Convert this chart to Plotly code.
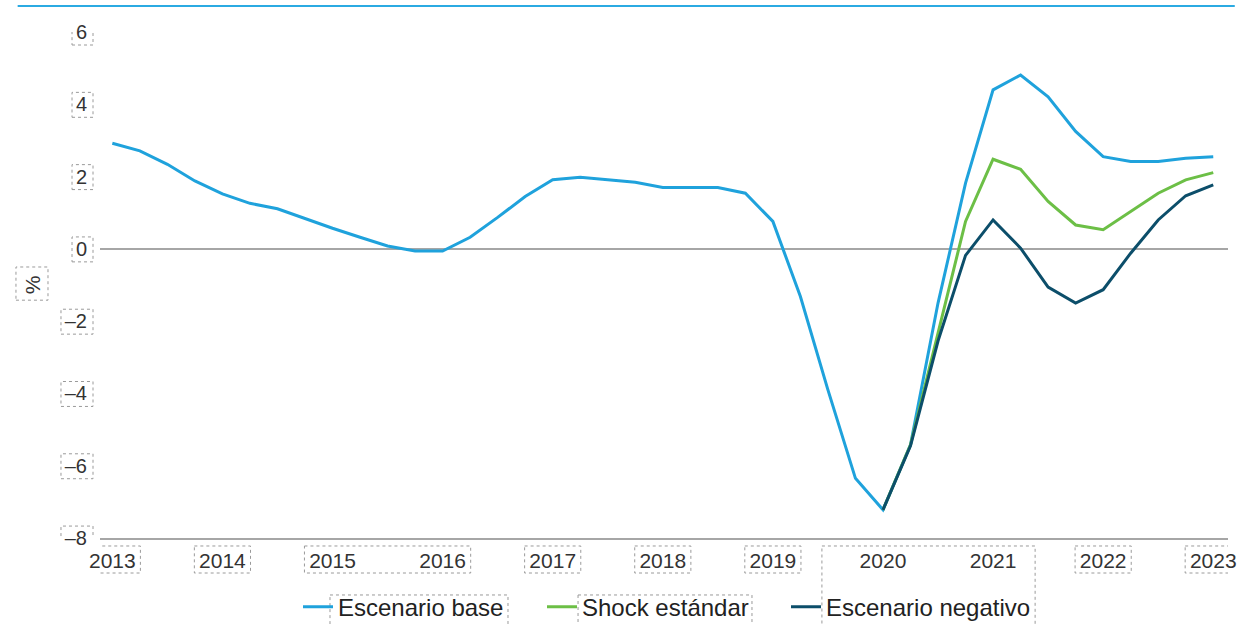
import plotly.graph_objects as go

# ---------------- data ----------------
start_year = 2013
quarters_per_year = 4
years_ticks = [2013, 2014, 2015, 2016, 2017, 2018, 2019, 2020, 2021, 2022, 2023]
y_ticks = [6, 4, 2, 0, -2, -4, -6, -8]
y_ticktext = ["6", "4", "2", "0", "–2", "–4", "–6", "–8"]

escenario_base = [2.92, 2.71, 2.34, 1.88, 1.52, 1.26, 1.11, 0.83, 0.57, 0.32, 0.08, -0.06,
                  -0.06, 0.32, 0.87, 1.45, 1.91, 1.98, 1.91, 1.84, 1.70, 1.70, 1.70, 1.54,
                  0.76, -1.32, -3.90, -6.35, -7.22, -5.42, -1.50, 1.82, 4.40, 4.81, 4.21,
                  3.25, 2.55, 2.42, 2.42, 2.51, 2.55]
shock_start = 28  # index of 2020 T1, where the scenarios branch off
shock_estandar = [-7.22, -5.42, -2.33, 0.76, 2.48, 2.20, 1.31, 0.66, 0.53, 1.03, 1.54, 1.91, 2.11]
escenario_negativo = [-7.22, -5.45, -2.55, -0.18, 0.80, 0.02, -1.06, -1.50, -1.13, -0.12, 0.80, 1.47, 1.77]

x_all = [start_year + i / quarters_per_year for i in range(len(escenario_base))]
x_shock = x_all[shock_start:shock_start + len(shock_estandar)]

series_names = ["Escenario base", "Shock estándar", "Escenario negativo"]
colors = ["#1FA2DC", "#6CBF46", "#0C4E6A"]

# ---------------- figure ----------------
fig = go.Figure()
fig.add_trace(go.Scatter(x=x_all, y=escenario_base, mode="lines", name=series_names[0],
                         line=dict(color=colors[0], width=3)))
fig.add_trace(go.Scatter(x=x_shock, y=shock_estandar, mode="lines", name=series_names[1],
                         line=dict(color=colors[1], width=3)))
fig.add_trace(go.Scatter(x=x_shock, y=escenario_negativo, mode="lines", name=series_names[2],
                         line=dict(color=colors[2], width=3)))

font_family = "Liberation Sans, Arial, sans-serif"
text_color = "#333333"

fig.update_layout(
    width=1250, height=624,
    margin=dict(l=100, r=22, t=32, b=86, autoexpand=False),
    paper_bgcolor="white", plot_bgcolor="white",
    font=dict(family=font_family, color=text_color),
    showlegend=True,
    legend=dict(orientation="h", x=0.5, xanchor="center", y=-0.092, yanchor="top",
                font=dict(size=24, color="#222222"), traceorder="normal",
                entrywidth=199, entrywidthmode="pixels",
                bgcolor="rgba(0,0,0,0)"),
    xaxis=dict(range=[2012.888, 2023.134], tickmode="array", tickvals=years_ticks,
               ticktext=[str(y) for y in years_ticks], showgrid=False, zeroline=False,
               showline=True, linecolor="#A6A6A6", linewidth=1.5, ticks="",
               tickfont=dict(size=21, color=text_color), ticklabelstandoff=3),
    yaxis=dict(range=[-8, 6], tickmode="array", tickvals=y_ticks, ticktext=y_ticktext,
               showgrid=False, zeroline=True, zerolinecolor="#A6A6A6", zerolinewidth=1.5,
               showline=False, ticks="", tickfont=dict(size=20, color=text_color),
               ticklabelstandoff=12,
               title=dict(text="%", font=dict(size=21, color=text_color), standoff=18)),
)

# decorative top rule
fig.add_shape(type="line", xref="paper", yref="paper", x0=-0.073, x1=1.006, y0=1.0514, y1=1.0514,
              line=dict(color="#2BAAE2", width=2))

box_line = dict(color="#9A9A9A", width=1, dash="dot")
# dotted boxes around x tick labels (2015/2016 share one box)
half_w = 0.255
groups = [[2013], [2014], [2015, 2016], [2017], [2018], [2019], [2022], [2023]]
for g in groups:
    fig.add_shape(type="rect", xref="x", yref="paper", x0=g[0] - half_w, x1=g[-1] + half_w,
                  y0=-0.0158, y1=-0.0692, line=box_line)
# box around 2020/2021 extending over the last legend entry
fig.add_shape(type="rect", xref="paper", yref="paper", x0=0.640, x1=0.829, y0=-0.0158, y1=-0.175,
              line=box_line)
# dotted boxes around y tick labels
for v, t in zip(y_ticks, y_ticktext):
    x0 = -0.0248 if len(t) == 1 else -0.0346
    fig.add_shape(type="rect", xref="paper", yref="y", x0=x0, x1=-0.0062, y0=v - 0.36, y1=v + 0.33,
                  line=box_line)
# box around axis title
fig.add_shape(type="rect", xref="paper", yref="paper", x0=-0.0745, x1=-0.0461, y0=0.470, y1=0.5356,
              line=box_line)
# boxes around first two legend texts
fig.add_shape(type="rect", xref="paper", yref="paper", x0=0.2039, x1=0.3617, y0=-0.1126, y1=-0.175,
              line=box_line)
fig.add_shape(type="rect", xref="paper", yref="paper", x0=0.4238, x1=0.578, y0=-0.1126, y1=-0.175,
              line=box_line)

fig.write_html("out.html", config={"displayModeBar": False},
               post_script="document.body.style.margin='0';")
